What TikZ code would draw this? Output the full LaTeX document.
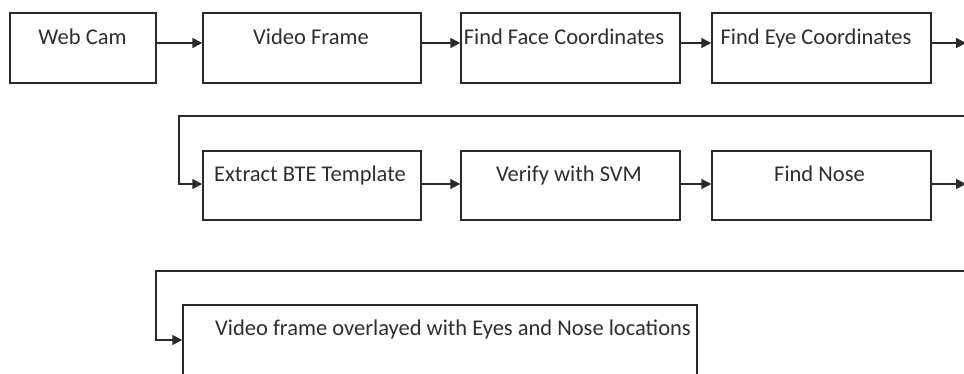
\documentclass[tikz,border=0pt]{standalone}
\usepackage{fontspec}
\setmainfont{Carlito}
\usetikzlibrary{arrows.meta}
\definecolor{linec}{HTML}{2A2A2A}
\definecolor{txtc}{HTML}{2E2E2E}
\begin{document}
\begin{tikzpicture}[x=1pt,y=-1pt,
  box/.style={draw=linec, line width=1.5pt, minimum height=70pt, inner sep=0pt, fill=white},
  lbl/.style={anchor=base, inner sep=0pt, text=txtc, font=\fontsize{22.5}{26}\selectfont},
  arr/.style={draw=linec, line width=1.5pt, -{Triangle[length=10pt,width=10pt]}}]
\useasboundingbox (0,0) rectangle (964,373);
\clip (0,0) rectangle (964,373);
\fill[white] (0,0) rectangle (964,373);
% row 1
\node[box, minimum width=146pt] (b1) at (83,48) {};
\node[box, minimum width=218pt] (b2) at (312,48) {};
\node[box, minimum width=219pt] (b3) at (570.5,48) {};
\node[box, minimum width=219pt] (b4) at (821.5,48) {};
\node[lbl] (t1) at (82.5,44) {Web Cam};
\node[lbl] (t2) at (311,44) {Video Frame};
\node[lbl] (t3) at (564,44) {Find Face Coordinates};
\node[lbl] (t4) at (816,44) {Find Eye Coordinates};
% row 2
\node[box, minimum width=218pt, minimum height=69pt] (b5) at (312,185.5) {};
\node[box, minimum width=219pt, minimum height=69pt] (b6) at (570.5,185.5) {};
\node[box, minimum width=219pt, minimum height=69pt] (b7) at (821.5,185.5) {};
\node[lbl] (t5) at (310,181) {Extract BTE Template};
\node[lbl] (t6) at (569,181) {Verify with SVM};
\node[lbl] (t7) at (819.5,181) {Find Nose};
% row 3
\node[box, minimum width=514pt] (b8) at (440,340) {};
\node[lbl] (t8) at (453,335) {Video frame overlayed with Eyes and Nose locations};
% connectors
\draw[arr] ([yshift=5pt]b1.east) -- ([yshift=5pt]b2.west);
\draw[arr] ([yshift=5pt]b2.east) -- ([yshift=5pt]b3.west);
\draw[arr] ([yshift=5pt]b3.east) -- ([yshift=5pt]b4.west);
\coordinate (e1) at (966,43);
\draw[arr] ([yshift=5pt]b4.east) -- (e1);
\coordinate (s1) at (966,116);
\coordinate (k1) at (179,116);
\draw[arr] (s1) -- (k1) |- ([yshift=1.5pt]b5.west);
\draw[arr] ([yshift=1.5pt]b5.east) -- ([yshift=1.5pt]b6.west);
\draw[arr] ([yshift=1.5pt]b6.east) -- ([yshift=1.5pt]b7.west);
\coordinate (e2) at (966,184);
\draw[arr] ([yshift=1.5pt]b7.east) -- (e2);
\coordinate (s2) at (966,271);
\coordinate (k2) at (156,271);
\draw[arr] (s2) -- (k2) |- (b8.west);
\end{tikzpicture}
\end{document}
